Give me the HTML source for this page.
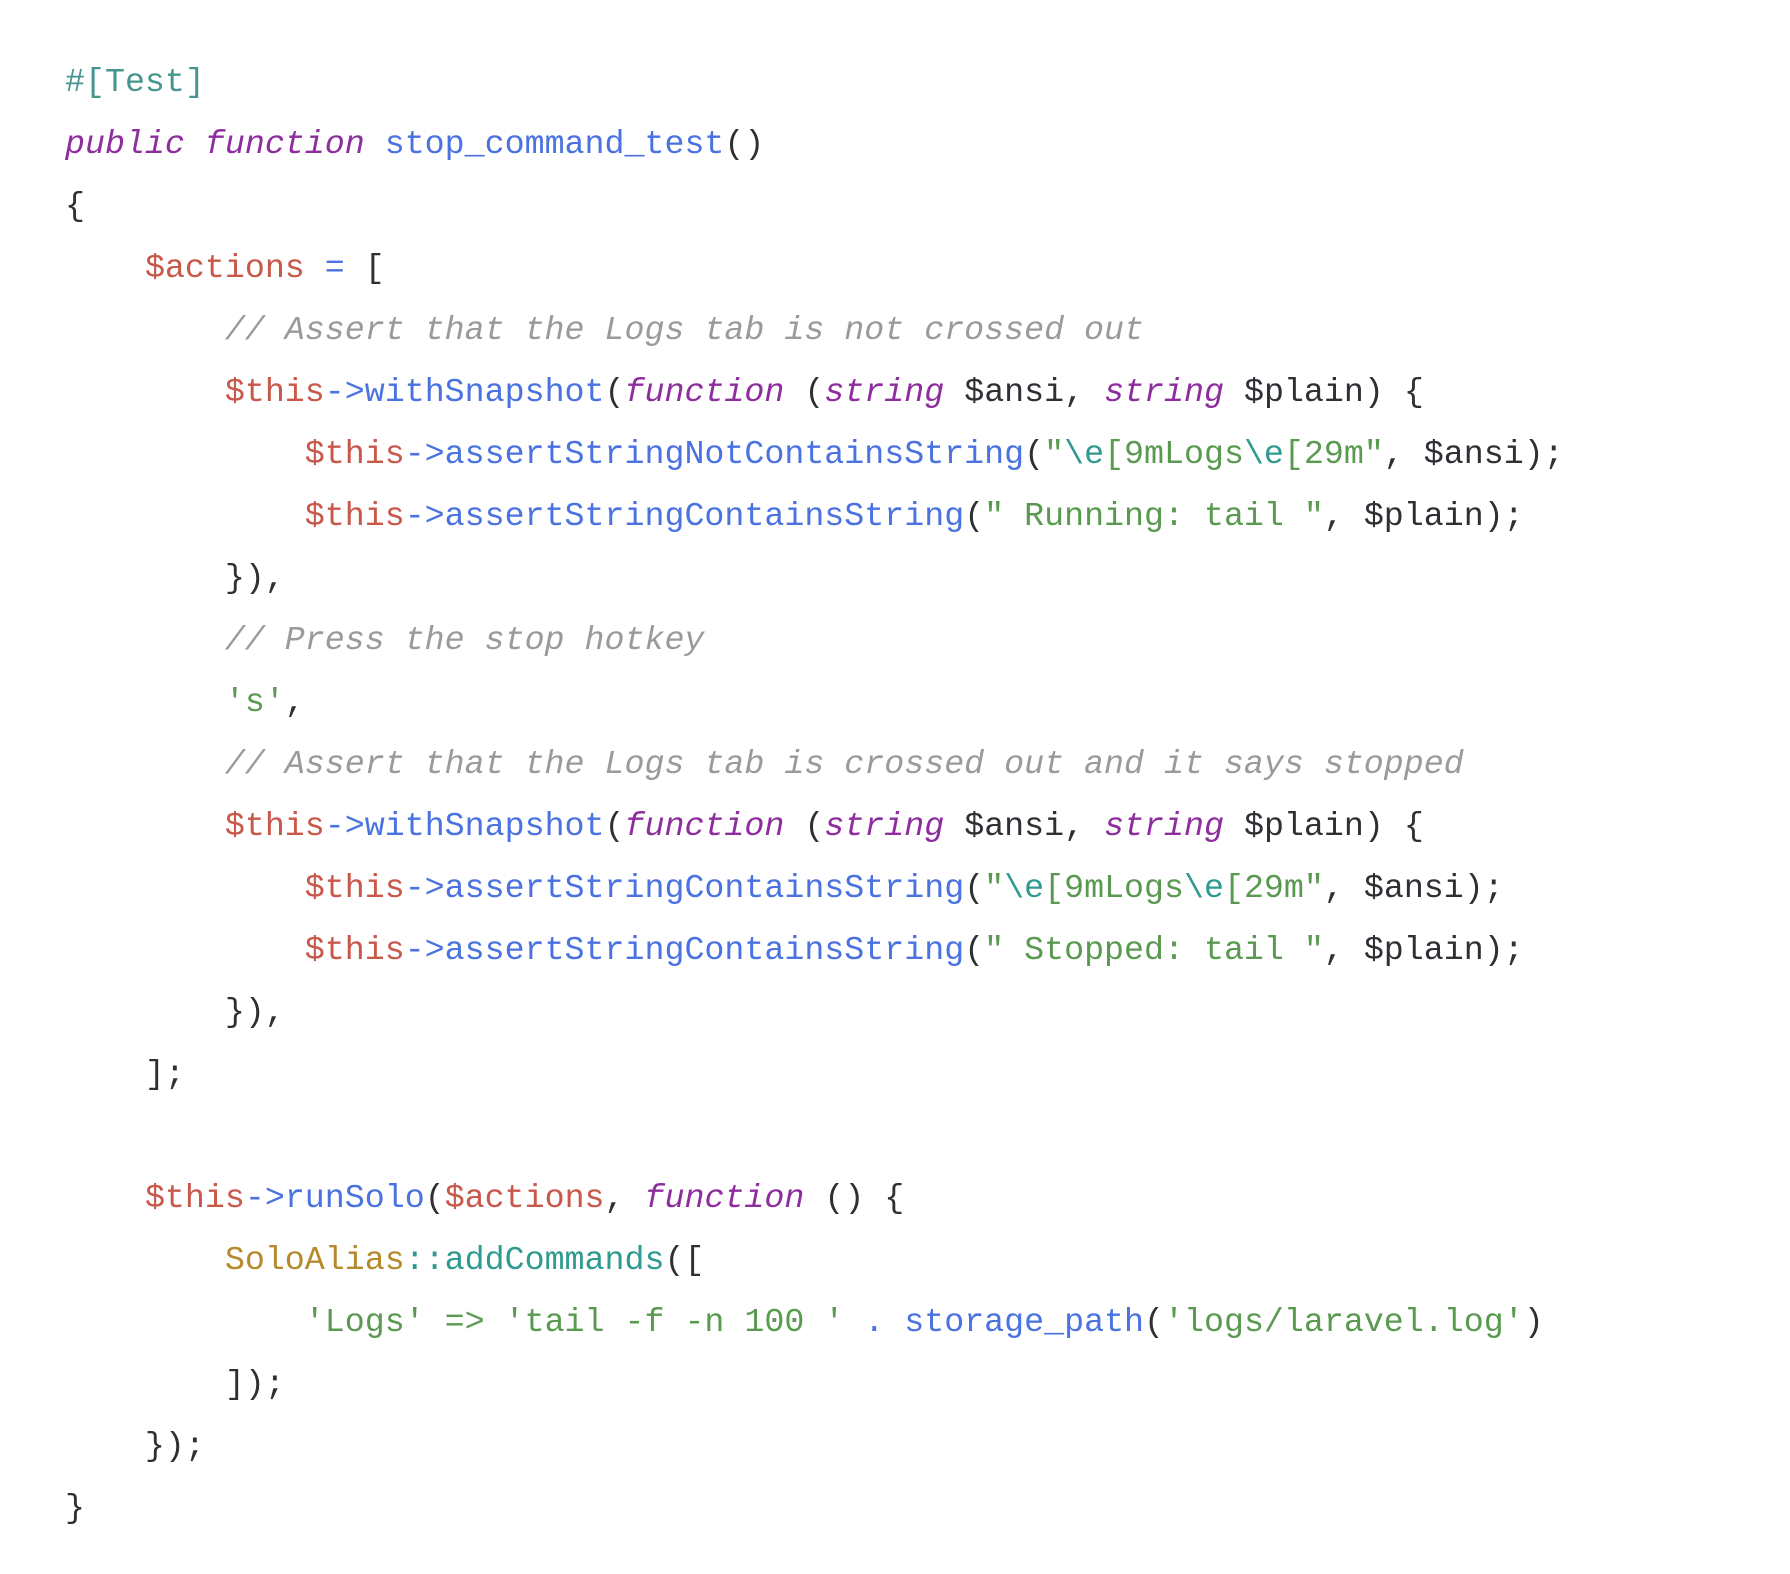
<!DOCTYPE html>
<html><head><meta charset="utf-8"><style>
html,body{margin:0;padding:0;background:#fff;width:1790px;height:1574px;overflow:hidden}
pre{margin:0;position:absolute;left:65px;top:51px;font-family:"Liberation Mono","DejaVu Sans Mono",monospace;font-size:33.3px;line-height:62px;color:#2f2f35;letter-spacing:0}
.t{color:#46968f}.k{color:#8e2e9e;font-style:italic}.f{color:#4a72e0}.v{color:#c8584a}.c{color:#9a9a9a;font-style:italic}.s{color:#5a9a50}.e{color:#2f9a90}.g{color:#b58a2c}
</style></head><body><pre><span class="t">#[Test]</span>
<span class="k">public</span> <span class="k">function</span> <span class="f">stop_command_test</span>()
{
    <span class="v">$actions</span> <span class="f">=</span> [
        <span class="c">// Assert that the Logs tab is not crossed out</span>
        <span class="v">$this</span><span class="f">-&gt;withSnapshot</span>(<span class="k">function</span> (<span class="k">string</span> $ansi, <span class="k">string</span> $plain) {
            <span class="v">$this</span><span class="f">-&gt;assertStringNotContainsString</span>(<span class="s">"</span><span class="e">\e</span><span class="s">[9mLogs</span><span class="e">\e</span><span class="s">[29m"</span>, $ansi);
            <span class="v">$this</span><span class="f">-&gt;assertStringContainsString</span>(<span class="s">" Running: tail "</span>, $plain);
        }),
        <span class="c">// Press the stop hotkey</span>
        <span class="s">'s'</span>,
        <span class="c">// Assert that the Logs tab is crossed out and it says stopped</span>
        <span class="v">$this</span><span class="f">-&gt;withSnapshot</span>(<span class="k">function</span> (<span class="k">string</span> $ansi, <span class="k">string</span> $plain) {
            <span class="v">$this</span><span class="f">-&gt;assertStringContainsString</span>(<span class="s">"</span><span class="e">\e</span><span class="s">[9mLogs</span><span class="e">\e</span><span class="s">[29m"</span>, $ansi);
            <span class="v">$this</span><span class="f">-&gt;assertStringContainsString</span>(<span class="s">" Stopped: tail "</span>, $plain);
        }),
    ];

    <span class="v">$this</span><span class="f">-&gt;runSolo</span>(<span class="v">$actions</span>, <span class="k">function</span> () {
        <span class="g">SoloAlias</span><span class="e">::addCommands</span>([
            <span class="s">'Logs'</span> <span class="s">=&gt;</span> <span class="s">'tail -f -n 100 '</span> <span class="f">.</span> <span class="f">storage_path</span>(<span class="s">'logs/laravel.log'</span>)
        ]);
    });
}</pre></body></html>
